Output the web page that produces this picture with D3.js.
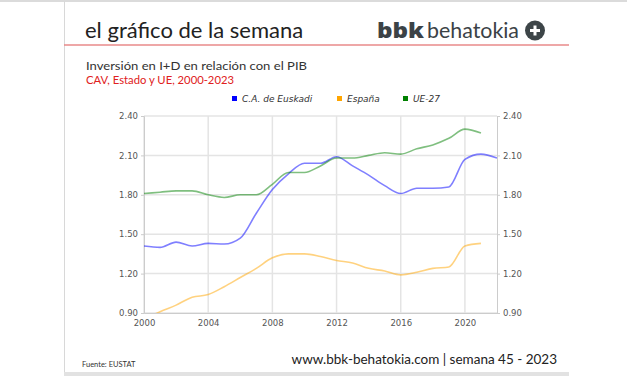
<!DOCTYPE html>
<html>
<head>
<meta charset="utf-8">
<script src="https://cdn.jsdelivr.net/npm/d3@7"></script>
<style>
  body { margin: 0; background: #fff; }
  svg { display: block; }
</style>
</head>
<body>
<svg id="drawing_region"></svg>
<script>
// datos
const years = d3.range(2000, 2022);
const euskadi = [1.41, 1.40, 1.44, 1.41, 1.43, 1.425, 1.47, 1.66, 1.84, 1.96, 2.04, 2.04,
                 2.09, 2.02, 1.95, 1.87, 1.81, 1.85, 1.85, 1.86, 2.07, 2.11, 2.08];
const espana = [0.85, 0.91, 0.96, 1.02, 1.04, 1.10, 1.17, 1.24, 1.32, 1.35, 1.35, 1.33,
                1.30, 1.28, 1.24, 1.22, 1.19, 1.21, 1.24, 1.25, 1.41, 1.43];
const ue27 = [1.81, 1.82, 1.83, 1.83, 1.80, 1.78, 1.80, 1.80, 1.88, 1.97, 1.97, 2.02,
              2.08, 2.08, 2.10, 2.12, 2.11, 2.15, 2.18, 2.23, 2.30, 2.27];
const series_names = ['C.A. de Euskadi', 'España', 'UE-27'];
const x_ticks = [2000, 2004, 2008, 2012, 2016, 2020];
const y_ticks = [0.90, 1.20, 1.50, 1.80, 2.10, 2.40];

const config = {
    width: 627,
    height: 376,
    margin: {top: 116, right: 130, bottom: 63, left: 144},
    colors: ['#0000ff', '#ffa500', '#008000']
};

const svg = d3.select('#drawing_region')
    .attr('width', config.width)
    .attr('height', config.height);

// marco
svg.append('line').attr('x1', 0).attr('x2', 627).attr('y1', 1).attr('y2', 1)
    .attr('stroke', '#cfcfcf').attr('stroke-width', 1.5);
svg.append('line').attr('x1', 64.5).attr('x2', 64.5).attr('y1', 1).attr('y2', 376)
    .attr('stroke', '#d8d8d8').attr('stroke-width', 1);
svg.append('rect').attr('x', 64).attr('y', 372).attr('width', 505).attr('height', 4)
    .attr('fill', '#e2e2e2');
svg.append('line').attr('x1', 64).attr('x2', 569).attr('y1', 45).attr('y2', 45)
    .attr('stroke', '#e88a8a').attr('stroke-width', 1.5);

// cabecera
const sans = 'Lato, "Open Sans", sans-serif';
svg.append('text')
    .attr('x', 85).attr('y', 38)
    .style('font-family', sans)
    .style('font-size', '22px')
    .attr('fill', '#222')
    .text('el gráfico de la semana');

svg.append('text')
    .attr('x', 377).attr('y', 38)
    .attr('textLength', 47).attr('lengthAdjust', 'spacingAndGlyphs')
    .style('font-family', '"Open Sans", sans-serif')
    .style('font-size', '21px')
    .style('font-weight', '800')
    .attr('fill', '#3b4246')
    .text('bbk');
svg.append('text')
    .attr('x', 427).attr('y', 38)
    .attr('textLength', 92).attr('lengthAdjust', 'spacingAndGlyphs')
    .style('font-family', sans)
    .style('font-size', '22px')
    .style('font-weight', '400')
    .attr('fill', '#3b4246')
    .text('behatokia');

svg.append('circle').attr('cx', 535).attr('cy', 30.5).attr('r', 10).attr('fill', '#3d4548');
svg.append('rect').attr('x', 530).attr('y', 29).attr('width', 10).attr('height', 3).attr('fill', '#fff');
svg.append('rect').attr('x', 533.5).attr('y', 25.5).attr('width', 3).attr('height', 10).attr('fill', '#fff');

// títulos
svg.append('text')
    .attr('x', 86).attr('y', 70)
    .attr('textLength', 221).attr('lengthAdjust', 'spacingAndGlyphs')
    .style('font-family', sans)
    .style('font-size', '12px')
    .attr('fill', '#333')
    .text('Inversión en I+D en relación con el PIB');
svg.append('text')
    .attr('x', 86).attr('y', 84)
    .attr('textLength', 148).attr('lengthAdjust', 'spacingAndGlyphs')
    .style('font-family', sans)
    .style('font-size', '12px')
    .attr('fill', '#e02020')
    .text('CAV, Estado y UE, 2000-2023');

// escalas
const inner_width = config.width - config.margin.left - config.margin.right;
const inner_height = config.height - config.margin.top - config.margin.bottom;

const xscale = d3.scaleLinear().domain([2000, 2022]).range([0, inner_width]);
const yscale = d3.scaleLinear().domain([0.90, 2.40]).range([inner_height, 0]);

const chart = svg.append('g')
    .attr('transform', `translate(${config.margin.left}, ${config.margin.top})`);

// rejilla
chart.selectAll('.hgrid').data(y_ticks).enter().append('line')
    .attr('x1', 0).attr('x2', inner_width)
    .attr('y1', d => yscale(d)).attr('y2', d => yscale(d))
    .attr('stroke', '#e4e4e4').attr('stroke-width', 1.5);
chart.selectAll('.vgrid').data(x_ticks).enter().append('line')
    .attr('x1', d => xscale(d)).attr('x2', d => xscale(d))
    .attr('y1', 0).attr('y2', inner_height)
    .attr('stroke', '#e4e4e4').attr('stroke-width', 1.5);

// ejes
const tick_font = 'Verdana, "DejaVu Sans", sans-serif';
const left_axis = chart.append('g')
    .call(d3.axisLeft(yscale).tickValues(y_ticks).tickFormat(d3.format('.2f')).tickSize(3));
const right_axis = chart.append('g')
    .attr('transform', `translate(${inner_width}, 0)`)
    .call(d3.axisRight(yscale).tickValues(y_ticks).tickFormat(d3.format('.2f')).tickSize(3));
const bottom_axis = chart.append('g')
    .attr('transform', `translate(0, ${inner_height})`)
    .call(d3.axisBottom(xscale).tickValues(x_ticks).tickFormat(d3.format('d')).tickSize(0));

[left_axis, right_axis, bottom_axis].forEach(a => {
    a.select('.domain').attr('stroke', '#cccccc');
    a.selectAll('.tick line').attr('stroke', '#cccccc');
    a.selectAll('text')
        .style('font-family', tick_font)
        .style('font-size', '8.5px')
        .attr('fill', '#555');
});
bottom_axis.selectAll('text').attr('dy', '1.2em');

// líneas
chart.append('clipPath').attr('id', 'clip')
    .append('rect').attr('x', 0).attr('y', -2).attr('width', inner_width).attr('height', inner_height + 2);

const series = [euskadi, espana, ue27];
const line = d3.line()
    .x((d, i) => xscale(years[0] + i))
    .y(d => yscale(d))
    .curve(d3.curveMonotoneX);

chart.append('g').attr('clip-path', 'url(#clip)')
    .selectAll('path').data(series).enter().append('path')
    .attr('d', line)
    .attr('fill', 'none')
    .attr('stroke', (d, i) => config.colors[i])
    .attr('stroke-opacity', 0.5)
    .attr('stroke-width', 1.6);

// leyenda
const legend_x = [232, 337, 403];
const legend = svg.append('g').selectAll('g').data(series_names).enter().append('g')
    .attr('transform', (d, i) => `translate(${legend_x[i]}, 100)`);
legend.append('rect')
    .attr('x', 0).attr('y', -4).attr('width', 5).attr('height', 5)
    .attr('fill', (d, i) => config.colors[i]);
legend.append('text')
    .attr('x', 10).attr('y', 1.5)
    .style('font-family', tick_font)
    .style('font-size', '9px')
    .style('font-style', 'italic')
    .attr('fill', '#333')
    .text(d => d);

// pie
svg.append('text')
    .attr('x', 82).attr('y', 367)
    .style('font-family', sans)
    .style('font-size', '7.5px')
    .attr('fill', '#333')
    .text('Fuente: EUSTAT');
svg.append('text')
    .attr('x', 557).attr('y', 364)
    .attr('text-anchor', 'end')
    .style('font-family', sans)
    .style('font-size', '13.5px')
    .attr('fill', '#222')
    .text('www.bbk-behatokia.com | semana 45 - 2023');
</script>
</body>
</html>
